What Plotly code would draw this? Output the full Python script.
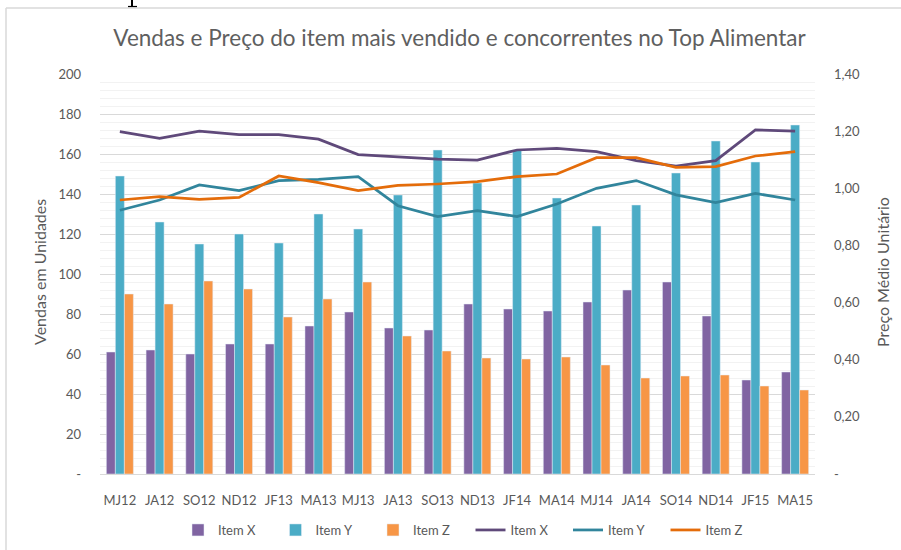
import plotly.graph_objects as go

categories = ["MJ12", "JA12", "SO12", "ND12", "JF13", "MA13", "MJ13", "JA13", "SO13",
              "ND13", "JF14", "MA14", "MJ14", "JA14", "SO14", "ND14", "JF15", "MA15"]

vendas_x = [61, 62, 60, 65, 65, 74, 81, 73, 72, 85, 82.5, 81.5, 86, 92, 96, 79, 47, 51]
vendas_y = [149, 126, 115, 120, 115.5, 130, 122.5, 139.5, 162, 145.5, 162, 138, 124, 134.5, 150.5, 166.5, 156, 174.5]
vendas_z = [90, 85, 96.5, 92.5, 78.5, 87.5, 96, 69, 61.5, 58, 57.5, 58.5, 54.5, 48, 49, 49.5, 44, 42]

preco_x = [1.198, 1.175, 1.200, 1.188, 1.188, 1.172, 1.118, 1.111, 1.102, 1.099, 1.134, 1.140, 1.128, 1.097, 1.078, 1.097, 1.204, 1.200]
preco_y = [0.923, 0.959, 1.012, 0.992, 1.027, 1.031, 1.041, 0.939, 0.901, 0.922, 0.901, 0.945, 1.000, 1.027, 0.977, 0.950, 0.982, 0.959]
preco_z = [0.959, 0.971, 0.961, 0.968, 1.043, 1.020, 0.992, 1.010, 1.015, 1.023, 1.041, 1.050, 1.107, 1.107, 1.073, 1.076, 1.113, 1.128]

left_ticks = [0, 20, 40, 60, 80, 100, 120, 140, 160, 180, 200]
left_labels = ["-", "20", "40", "60", "80", "100", "120", "140", "160", "180", "200"]
right_ticks = [0, 0.2, 0.4, 0.6, 0.8, 1.0, 1.2, 1.4]
right_labels = ["-", "0,20", "0,40", "0,60", "0,80", "1,00", "1,20", "1,40"]

FONT = "Lato"
TXT = "#595959"

fig = go.Figure()
fig.add_trace(go.Bar(x=categories, y=vendas_x, name="Item X", marker_color="#8064A2"))
fig.add_trace(go.Bar(x=categories, y=vendas_y, name="Item Y", marker_color="#4BACC6"))
fig.add_trace(go.Bar(x=categories, y=vendas_z, name="Item Z", marker_color="#F79646"))
fig.add_trace(go.Scatter(x=categories, y=preco_x, name="Item X", mode="lines",
                         line=dict(color="#5F497A", width=2.75), yaxis="y2"))
fig.add_trace(go.Scatter(x=categories, y=preco_y, name="Item Y", mode="lines",
                         line=dict(color="#31859C", width=2.75), yaxis="y2"))
fig.add_trace(go.Scatter(x=categories, y=preco_z, name="Item Z", mode="lines",
                         line=dict(color="#E46C0A", width=2.75), yaxis="y2"))

W, H = 901, 550
L, R, T, B = 100, 815, 74, 474


def px_x(p):
    return (p - L) / (R - L)


def px_y(p):
    return (B - p) / (B - T)


fig.update_layout(
    width=W, height=H,
    margin=dict(l=L, r=W - R, t=T, b=H - B, autoexpand=False),
    paper_bgcolor="white", plot_bgcolor="white",
    font=dict(family=FONT, color=TXT, size=13),
    barmode="group", bargap=0.32, bargroupgap=0,
    title=dict(text="Vendas e Preço do item mais vendido e concorrentes no Top Alimentar",
               x=459.5 / W, xref="container", xanchor="center",
               y=1 - 38 / H, yref="container", yanchor="middle",
               font=dict(family=FONT, size=22.5, color="#5f5f5f")),
    xaxis=dict(showline=True, linecolor="#D9D9D9", linewidth=1, ticks="",
               tickfont=dict(size=13, color=TXT), showgrid=False, ticklabelstandoff=14),
    yaxis=dict(range=[0, 200], tickvals=left_ticks, ticktext=left_labels,
               showgrid=True, gridcolor="#D9D9D9", gridwidth=1, zeroline=False,
               ticks="", tickfont=dict(size=13, color=TXT), ticklabelstandoff=18,
               minor=dict(dtick=4, tick0=0, showgrid=True, gridcolor="#F2F2F2", gridwidth=1)),
    yaxis2=dict(range=[0, 1.4], tickvals=right_ticks, ticktext=right_labels,
                overlaying="y", side="right", showgrid=False, zeroline=False,
                ticks="", tickfont=dict(size=13, color=TXT), ticklabelstandoff=18),
    legend=dict(orientation="h", x=px_x(178), xanchor="left", y=px_y(530), yanchor="middle",
                font=dict(size=13, color=TXT), entrywidth=52.5, entrywidthmode="pixels",
                traceorder="normal"),
    showlegend=True,
)

fig.add_annotation(text="Vendas em Unidades", textangle=-90, xref="paper", yref="paper",
                   x=px_x(39), y=px_y(272), xanchor="center", yanchor="middle", showarrow=False,
                   font=dict(family=FONT, size=16, color=TXT))
fig.add_annotation(text="Preço Médio Unitário", textangle=-90, xref="paper", yref="paper",
                   x=px_x(882), y=px_y(272), xanchor="center", yanchor="middle", showarrow=False,
                   font=dict(family=FONT, size=16, color=TXT))

# outer frame of the chart object (top and left edges visible)
fig.add_shape(type="line", xref="paper", yref="paper", x0=px_x(6), x1=px_x(905),
              y0=px_y(8), y1=px_y(8), line=dict(color="#D9D9D9", width=1.5))
fig.add_shape(type="line", xref="paper", yref="paper", x0=px_x(6), x1=px_x(6),
              y0=px_y(8), y1=px_y(560), line=dict(color="#D9D9D9", width=1.5))

# cut-off descender of a letter from the surrounding document, above the frame
fig.add_shape(type="line", xref="paper", yref="paper", x0=px_x(132), x1=px_x(132),
              y0=px_y(-2), y1=px_y(6.5), line=dict(color="black", width=2))
fig.add_shape(type="line", xref="paper", yref="paper", x0=px_x(128), x1=px_x(137),
              y0=px_y(6.5), y1=px_y(6.5), line=dict(color="black", width=1.2))

fig.write_html("out.html", config={"displayModeBar": False},
               post_script="document.body.style.margin='0';document.body.style.overflow='hidden';")
